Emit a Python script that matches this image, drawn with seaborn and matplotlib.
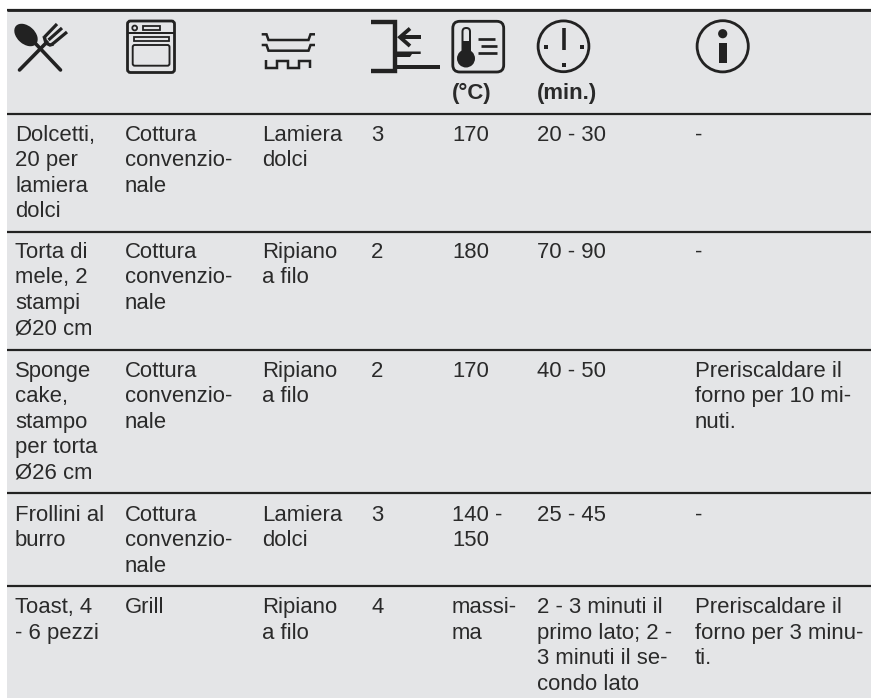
import matplotlib
matplotlib.use("Agg")
import matplotlib.pyplot as plt
import numpy as np
import seaborn as sns
from matplotlib.colors import ListedColormap
from matplotlib.patches import Circle, Ellipse, FancyBboxPatch, Rectangle, Polygon

sns.set_theme(style="white")
plt.rcParams['font.family'] = ['Liberation Sans', 'DejaVu Sans']

# Table content
foods = ["Dolcetti,\n20 per\nlamiera\ndolci", "Torta di\nmele, 2\nstampi\nØ20 cm",
         "Sponge\ncake,\nstampo\nper torta\nØ26 cm", "Frollini al\nburro", "Toast, 4\n- 6 pezzi"]
modes = ["Cottura\nconvenzio-\nnale", "Cottura\nconvenzio-\nnale", "Cottura\nconvenzio-\nnale",
         "Cottura\nconvenzio-\nnale", "Grill"]
accessories = ["Lamiera\ndolci", "Ripiano\na filo", "Ripiano\na filo", "Lamiera\ndolci", "Ripiano\na filo"]
levels = ["3", "2", "2", "3", "4"]
temps = ["170", "180", "170", "140 -\n150", "massi-\nma"]
times = ["20 - 30", "70 - 90", "40 - 50", "25 - 45",
         "2 - 3 minuti il\nprimo lato; 2 -\n3 minuti il se-\ncondo lato"]
notes = ["-", "-", "Preriscaldare il\nforno per 10 mi-\nnuti.", "-",
         "Preriscaldare il\nforno per 3 minu-\nti."]
columns = [foods, modes, accessories, levels, temps, times, notes]
units = {"(°C)": 452, "(min.)": 537}

# Positions in pixels
W, H = 871, 698
col_x = [15, 125, 262, 371, 452, 537, 695]
first_baseline = [140.8, 258, 376.8, 520.8, 613.4]
line_step = 25.4
rules = [9.5, 113.5, 231.7, 349.5, 493, 586]
INK = "#2a2a2a"
RULE = "#222222"
BG = "#e4e5e7"

fig = plt.figure(figsize=(W / 100, H / 100), dpi=100)

# Grey table background
ax_bg = fig.add_axes([7 / W, 0, 1 - 7 / W, 1 - 9.5 / H])
sns.heatmap(np.zeros((1, 1)), cmap=ListedColormap([BG]), cbar=False, ax=ax_bg,
            xticklabels=False, yticklabels=False)

ax = fig.add_axes([0, 0, 1, 1], facecolor="none")
ax.set_xlim(0, W)
ax.set_ylim(H, 0)
ax.axis("off")

px = 0.72  # pixels -> points at dpi 100

ax.hlines(rules, 7, W, color=RULE, lw=2.2 * px)
ax.hlines(rules[0], 7, W, color=RULE, lw=2.8 * px)

for x, col in zip(col_x, columns):
    for y0, cell in zip(first_baseline, col):
        for i, line in enumerate(cell.split("\n")):
            ax.text(x, y0 + i * line_step, line, fontsize=15.9, color=INK, va="baseline", ha="left")

for label, x in units.items():
    ax.text(x, 98.7, label, fontsize=15.9, fontweight="bold", color=INK, va="baseline", ha="left")


def stroke(xs, ys, lw=2.2, color=RULE, cap="butt"):
    ax.plot(xs, ys, color=color, lw=lw * px, solid_capstyle=cap, solid_joinstyle="miter")


def box(x0, y0, x1, y1, lw=1.6, r=0.0):
    ax.add_patch(FancyBboxPatch((x0 + r, y0 + r), x1 - x0 - 2 * r, y1 - y0 - 2 * r,
                                boxstyle=f"round,pad={r},rounding_size={r}", fc="none", ec=RULE, lw=lw * px))


# Spoon and fork
ax.add_patch(Ellipse((26, 35), 27, 18, angle=42, fc=RULE, ec="none"))
stroke([35, 60.5], [43, 70], lw=3.6, cap="round")
stroke([19.5, 47], [70, 42], lw=3.6, cap="round")
stroke([44.5, 57], [37, 24], lw=3.2)
stroke([48.5, 62], [40, 28], lw=3.2)
stroke([52.5, 67], [44, 32], lw=3.2)
stroke([44, 46, 50, 53.5], [36, 43, 45, 44], lw=3.4)

# Oven
box(127.5, 21, 174.5, 72.5, lw=2.8, r=3)
stroke([127, 175], [32.5, 32.5], lw=2)
ax.add_patch(Circle((134.7, 28), 2.4, fc="none", ec=RULE, lw=1.8 * px))
ax.add_patch(Rectangle((142.7, 26), 17.3, 4, fc="none", ec=RULE, lw=1.8 * px))
ax.add_patch(Rectangle((133.5, 37.3), 35.5, 4, fc="none", ec=RULE, lw=1.8 * px))
box(132.7, 45, 169.5, 65.7, lw=1.9, r=2)

# Trays and rack
for top in [34.3, 45]:
    stroke([261.7, 266.5, 268.5, 308.5, 310.5, 315], [top, top, top + 5.7, top + 5.7, top, top], lw=2.5)
stroke([266, 266, 277, 277, 287.5, 287.5, 298.5, 298.5, 310, 310], [60, 68, 68, 60.7, 60.7, 68, 68, 60.7, 60.7, 68], lw=2.5)

# Shelf level
stroke([371, 394.5, 394.5, 371], [21.8, 21.8, 70.5, 70.5], lw=4.4)
stroke([394, 440], [67.3, 67.3], lw=4)
ax.add_patch(Polygon([(394, 51.5), (420.7, 51.5), (420.7, 54), (412, 54), (410, 57), (394, 57)], fc=RULE, ec="none"))
stroke([401, 420.7], [37.2, 37.2], lw=4)
stroke([410, 400, 410], [28.5, 37.2, 46], lw=3.8)

# Thermometer
box(452.8, 21.3, 503.7, 72, lw=2.8, r=7)
ax.add_patch(Circle((466, 58.5), 9, fc=RULE, ec="none"))
ax.add_patch(Rectangle((462.5, 41), 7, 13, fc=RULE, ec="none"))
box(462.5, 28, 470, 54, lw=2, r=3.6)
for y, x0, x1 in [(39, 477.5, 495), (46, 481, 497), (53, 478, 497)]:
    stroke([x0, x1], [y, y], lw=2.7)

# Clock
ax.add_patch(Circle((563.5, 46.3), 25.4, fc="none", ec=RULE, lw=2.8 * px))
stroke([563.5, 563.5], [28, 50], lw=3.6)
for x, y in [(545.8, 46.5), (581.5, 46.5), (563.5, 64.7)]:
    ax.add_patch(Rectangle((x - 2, y - 2), 4, 4, fc=RULE, ec="none"))

# Info
ax.add_patch(Circle((722.7, 46.3), 25.6, fc="none", ec=RULE, lw=2.8 * px))
ax.add_patch(Circle((722.7, 33.7), 4.6, fc=RULE, ec="none"))
ax.add_patch(Rectangle((719, 43.3), 7.6, 19.4, fc=RULE, ec="none"))

fig.savefig("out.png", dpi=100)
